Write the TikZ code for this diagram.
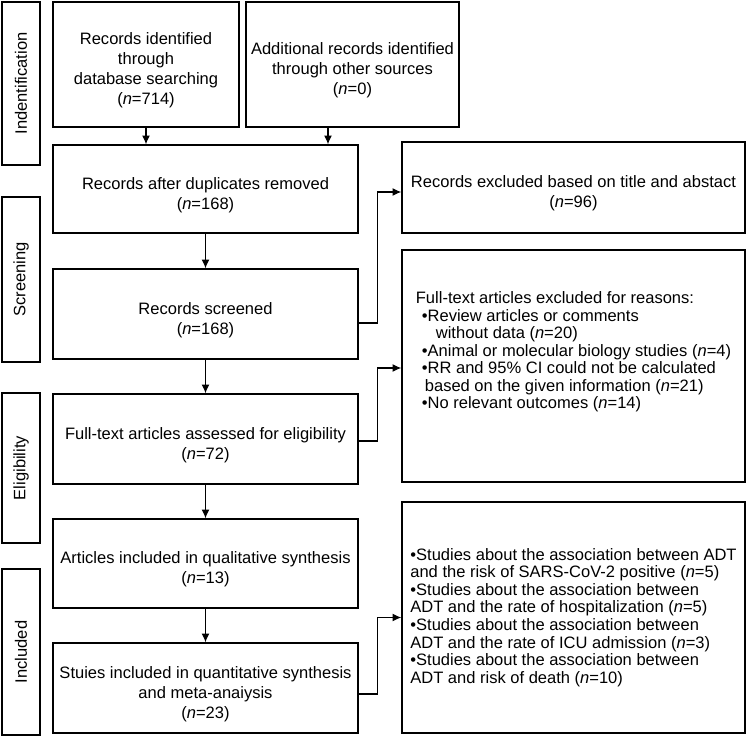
\documentclass[tikz,border=0pt]{standalone}
\usepackage{fontspec}
\setmainfont{Liberation Sans}
\usetikzlibrary{arrows.meta, positioning}

\newcommand{\nval}[1]{(\textit{n}=#1)}
\newcommand{\topgap}{\rule{0pt}{13.5pt}}

\begin{document}
\begin{tikzpicture}[>={Latex[length=5pt,width=4.5pt]},
  every node/.style={font=\fontsize{9.4pt}{11.3pt}\selectfont},
  box/.style={draw, line width=0.8pt, align=center, inner sep=1pt},
  phase/.style={draw, line width=0.8pt, rotate=90, minimum height=0.76cm, inner sep=1pt},
  listbox/.style={draw, line width=0.8pt, align=left, inner sep=1pt,
    font=\fontsize{9.4pt}{10pt}\selectfont},
  listtext/.style={align=left, font=\fontsize{9.4pt}{10pt}\selectfont, inner sep=0pt},
  flow/.style={->, line width=0.6pt}]

  \useasboundingbox (0,0) rectangle (14.94,-14.72);

  % Phase labels (left)
  \node[phase, minimum width=3.26cm] (ident) at (0.42,-1.67) {Indentification};
  \node[phase, minimum width=3.30cm] (screen) at (0.42,-5.59) {Screening};
  \node[phase, minimum width=3.00cm] (elig) at (0.42,-9.36) {Eligibility};
  \node[phase, minimum width=3.32cm] (incl) at (0.42,-13.04) {Included};

  % Identification boxes
  \node[box, minimum width=3.72cm, minimum height=2.5cm] (idb) at (2.92,-1.29)
    {\topgap Records identified\\through\\database searching\\\nval{714}};
  \node[box, minimum width=4.26cm, minimum height=2.5cm] (oth) at (7.05,-1.29)
    {\topgap Additional records identified\\through other sources\\\nval{0}};

  % Main column
  \node[box, minimum width=6.1cm, minimum height=1.76cm] (dup) at (4.11,-3.78)
    {\topgap Records after duplicates removed\\\nval{168}};
  \node[box, minimum width=6.1cm, minimum height=1.8cm] (scr) at (4.11,-6.28)
    {\topgap Records screened\\\nval{168}};
  \node[box, minimum width=6.1cm, minimum height=1.8cm] (full) at (4.11,-8.78)
    {\topgap Full-text articles assessed for eligibility\\\nval{72}};
  \node[box, minimum width=6.1cm, minimum height=1.78cm] (qual) at (4.11,-11.27)
    {\topgap Articles included in qualitative synthesis\\\nval{13}};
  \node[box, minimum width=6.1cm, minimum height=1.8cm] (quan) at (4.11,-13.76)
    {\topgap Stuies included in quantitative synthesis\\and meta-anaiysis\\\nval{23}};

  % Exclusions (right)
  \node[box, minimum width=6.86cm, minimum height=1.82cm] (excA) at (11.47,-3.75)
    {\topgap Records excluded based on title and abstact\\\nval{96}};
  \node[listbox, minimum width=6.86cm, minimum height=4.64cm] (excB) at (11.47,-7.32) {};
  \node[listtext] (excBtxt) at ([yshift=0.28cm]excB.center)
    {Full-text articles excluded for reasons:\\
     \hspace{0.12cm}\textbullet Review articles or comments\\
     \hspace{0.4cm}without data \nval{20}\\
     \hspace{0.12cm}\textbullet Animal or molecular biology studies \nval{4}\\
     \hspace{0.12cm}\textbullet RR and 95\% CI could not be calculated\\
     \hspace{0.18cm}based on the given information \nval{21}\\
     \hspace{0.12cm}\textbullet No relevant outcomes \nval{14}};
  \node[listbox, minimum width=6.86cm, minimum height=4.62cm] (stud) at (11.47,-12.35)
    {\textbullet Studies about the association between ADT\\
     and the risk of SARS-CoV-2 positive \nval{5}\\
     \textbullet Studies about the association between\\
     ADT and the rate of hospitalization \nval{5}\\
     \textbullet Studies about the association between\\
     ADT and the rate of ICU admission \nval{3}\\
     \textbullet Studies about the association between\\
     ADT and risk of death \nval{10}};

  % Arrows down
  \coordinate (othx) at (6.56,0);
  \draw[flow] (idb.south) -- (idb.south |- dup.north);
  \draw[flow] (othx |- oth.south) -- (othx |- dup.north);
  \draw[flow] (dup.south) -- (scr.north);
  \draw[flow] (scr.south) -- (full.north);
  \draw[flow] (full.south) -- (qual.north);
  \draw[flow] (qual.south) -- (quan.north);

  % Arrows to the right
  \draw[flow] ([yshift=-0.18cm]scr.east) -- ++(0.38,0) |- ([yshift=-0.09cm]excA.west);
  \draw[flow] ([yshift=-0.04cm]full.east) -- ++(0.38,0) |- ([yshift=-0.04cm]excB.west);
  \draw[flow] ([yshift=-0.12cm]quan.east) -- ++(0.38,0) |- (stud.west);
\end{tikzpicture}
\end{document}
